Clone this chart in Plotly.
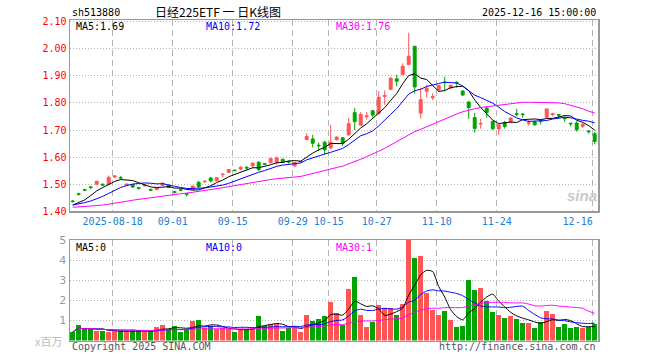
import numpy as np
import pandas as pd
import plotly.graph_objects as go

# ---------------- data ----------------
opens = [1.438, 1.465, 1.480, 1.490, 1.500, 1.500, 1.500, 1.527, 1.525, 1.496,
         1.499, 1.487, 1.494, 1.480, 1.480, 1.496, 1.496, 1.472, 1.480, 1.465,
         1.480, 1.507, 1.509, 1.523, 1.513, 1.535, 1.544, 1.552, 1.556, 1.562,
         1.568, 1.581, 1.576, 1.580, 1.581, 1.592, 1.584, 1.568, 1.582, 1.665,
         1.667, 1.644, 1.655, 1.634, 1.664, 1.671, 1.682, 1.764, 1.718, 1.749,
         1.771, 1.762, 1.824, 1.850, 1.889, 1.905, 1.942, 2.009, 1.762, 1.843,
         1.819, 1.848, 1.877, 1.855, 1.876, 1.844, 1.803, 1.746, 1.722, 1.781,
         1.732, 1.704, 1.728, 1.730, 1.760, 1.759, 1.725, 1.731, 1.734, 1.747,
         1.757, 1.757, 1.744, 1.725, 1.726, 1.714, 1.696, 1.686]
highs = [1.442, 1.469, 1.482, 1.494, 1.512, 1.502, 1.532, 1.533, 1.530, 1.501,
         1.501, 1.490, 1.498, 1.484, 1.489, 1.505, 1.498, 1.476, 1.483, 1.468,
         1.494, 1.513, 1.513, 1.527, 1.526, 1.538, 1.556, 1.553, 1.567, 1.567,
         1.582, 1.585, 1.578, 1.598, 1.601, 1.594, 1.587, 1.582, 1.586, 1.688,
         1.682, 1.654, 1.660, 1.719, 1.676, 1.673, 1.744, 1.781, 1.766, 1.766,
         1.774, 1.844, 1.846, 1.897, 1.904, 1.946, 2.059, 2.010, 1.856, 1.866,
         1.835, 1.867, 1.896, 1.867, 1.880, 1.846, 1.808, 1.763, 1.742, 1.787,
         1.733, 1.720, 1.734, 1.747, 1.778, 1.762, 1.738, 1.734, 1.736, 1.779,
         1.764, 1.757, 1.750, 1.727, 1.732, 1.726, 1.700, 1.693]
lows = [1.432, 1.458, 1.474, 1.482, 1.499, 1.493, 1.499, 1.522, 1.518, 1.494,
        1.486, 1.480, 1.492, 1.475, 1.478, 1.495, 1.487, 1.466, 1.474, 1.454,
        1.478, 1.485, 1.506, 1.507, 1.511, 1.526, 1.541, 1.549, 1.552, 1.552,
        1.559, 1.549, 1.572, 1.576, 1.572, 1.580, 1.576, 1.562, 1.580, 1.662,
        1.636, 1.622, 1.608, 1.630, 1.662, 1.640, 1.680, 1.700, 1.716, 1.738,
        1.746, 1.757, 1.793, 1.848, 1.861, 1.902, 1.940, 1.835, 1.742, 1.819,
        1.810, 1.843, 1.845, 1.853, 1.856, 1.826, 1.741, 1.691, 1.705, 1.746,
        1.699, 1.681, 1.705, 1.728, 1.750, 1.745, 1.716, 1.716, 1.720, 1.745,
        1.750, 1.741, 1.730, 1.713, 1.694, 1.707, 1.686, 1.647]
closes = [1.436, 1.463, 1.478, 1.488, 1.511, 1.497, 1.525, 1.530, 1.523, 1.500,
          1.490, 1.485, 1.497, 1.478, 1.488, 1.504, 1.488, 1.470, 1.478, 1.463,
          1.493, 1.491, 1.511, 1.512, 1.524, 1.537, 1.554, 1.550, 1.562, 1.560,
          1.577, 1.554, 1.574, 1.594, 1.597, 1.582, 1.582, 1.580, 1.584, 1.676,
          1.651, 1.642, 1.627, 1.655, 1.674, 1.651, 1.723, 1.731, 1.758, 1.752,
          1.755, 1.821, 1.827, 1.891, 1.880, 1.935, 1.972, 1.859, 1.812, 1.854,
          1.823, 1.864, 1.875, 1.865, 1.874, 1.829, 1.783, 1.706, 1.724, 1.765,
          1.705, 1.719, 1.713, 1.744, 1.758, 1.757, 1.726, 1.719, 1.732, 1.778,
          1.760, 1.755, 1.742, 1.723, 1.701, 1.721, 1.694, 1.658]
volumes = [0.43, 0.77, 0.56, 0.62, 0.47, 0.47, 0.42, 0.47, 0.47, 0.47,
           0.47, 0.47, 0.44, 0.47, 0.67, 0.77, 0.57, 0.72, 0.43, 0.56,
           0.97, 1.02, 0.60, 0.72, 0.55, 0.60, 0.57, 0.43, 0.55, 0.55,
           0.68, 1.22, 0.72, 0.82, 0.80, 0.48, 0.62, 0.65, 0.43, 1.27,
           0.97, 1.07, 1.22, 1.92, 1.35, 0.75, 2.58, 3.18, 1.27, 0.68,
           0.93, 1.77, 1.60, 1.60, 1.27, 1.83, 4.98, 4.08, 4.18, 2.38,
           1.52, 1.27, 1.47, 1.02, 0.67, 0.72, 3.02, 2.52, 2.62, 1.95,
           1.42, 1.27, 1.13, 1.22, 1.08, 0.85, 0.85, 0.60, 0.92, 1.47,
           1.33, 0.68, 0.83, 0.63, 0.68, 0.63, 0.68, 0.82]

# moving-average values at the start of the window (they depend on
# sessions before the first visible candle, so they are read off the lines)
ma5_head = [1.423, 1.432, 1.442, 1.458]
ma10_head = [1.423, 1.427, 1.432, 1.438, 1.446, 1.455, 1.466, 1.478, 1.488]
ma30_head = [1.415, 1.416, 1.418, 1.419, 1.421, 1.423, 1.426, 1.429, 1.433, 1.437,
             1.441, 1.444, 1.447, 1.451, 1.454, 1.458, 1.461, 1.463, 1.465, 1.467,
             1.470, 1.473, 1.476, 1.479, 1.483, 1.487, 1.491, 1.495, 1.499]

tick_dates = ["2025-08-18", "2025-09-01", "2025-09-15", "2025-09-29", "2025-10-15",
              "2025-10-27", "2025-11-10", "2025-11-24", "2025-12-16"]
tick_labels = ["2025-08-18", "09-01", "09-15", "09-29", "10-15",
               "10-27", "11-10", "11-24", "12-16"]
price_ticks = [1.40, 1.50, 1.60, 1.70, 1.80, 1.90, 2.00, 2.10]
vol_ticks = [1, 2, 3, 4, 5]

# trading calendar (weekdays, without the October holiday)
all_days = pd.bdate_range("2025-08-07", "2025-12-16")
holiday = (all_days >= "2025-10-01") & (all_days <= "2025-10-08")
days = [d.strftime("%Y-%m-%d") for d in all_days[~holiday]]
n = len(closes)
x = np.arange(n)
tick_pos = [days.index(d) - 1 / 3 for d in tick_dates]
# the last date label is kept inside the frame (pushed left as in the original)
tick_text = tick_labels[:-1] + [tick_labels[-1] + "\u00a0" * 5]

c = pd.Series(closes)
ma5 = c.rolling(5).mean().to_numpy()
ma10 = c.rolling(10).mean().to_numpy()
ma30 = c.rolling(30).mean().to_numpy()
ma5[:len(ma5_head)] = ma5_head
ma10[:len(ma10_head)] = ma10_head
ma30[:len(ma30_head)] = ma30_head

v = pd.Series(volumes)
vma5 = v.rolling(5, min_periods=1).mean()
vma10 = v.rolling(10, min_periods=1).mean()
vma30 = v.rolling(30, min_periods=1).mean()

RED = "#ff5555"
GREEN = "#00a400"
vol_colors = [RED if cl > op else GREEN for op, cl in zip(opens, closes)]

W, H = 660, 360
def px(xp):
    return xp / W
def py(yp):
    return 1 - yp / H

fig = go.Figure()
fig.add_trace(go.Candlestick(
    x=x, open=opens, high=highs, low=lows, close=closes,
    increasing=dict(line=dict(color=RED, width=1), fillcolor=RED),
    decreasing=dict(line=dict(color=GREEN, width=1), fillcolor=GREEN),
    whiskerwidth=0, xaxis="x", yaxis="y", hoverinfo="skip"))
for arr, col in [(ma5, "#000000"), (ma10, "#0000ff"), (ma30, "#ff00ff")]:
    fig.add_trace(go.Scatter(x=x, y=arr, mode="lines", line=dict(color=col, width=1),
                             xaxis="x", yaxis="y", hoverinfo="skip"))

fig.add_trace(go.Bar(x=x, y=volumes, marker=dict(color=vol_colors, line=dict(width=0)),
                     width=0.88, xaxis="x2", yaxis="y2", hoverinfo="skip"))
for arr, col in [(vma5, "#000000"), (vma10, "#0000ff"), (vma30, "#ff00ff")]:
    fig.add_trace(go.Scatter(x=x, y=arr, mode="lines",
                             line=dict(color=col, width=1, shape="spline", smoothing=0.6),
                             xaxis="x2", yaxis="y2", hoverinfo="skip"))

MONO = "DejaVu Sans Mono"
xdom = [px(70), px(598)]
xr = [-0.45, n - 0.45]
grid_v = dict(showgrid=True, gridcolor="#b4b4b4", gridwidth=1.5, griddash="6px,4px")

fig.update_layout(
    width=W, height=H, margin=dict(l=0, r=0, t=0, b=0),
    paper_bgcolor="white", plot_bgcolor="white", showlegend=False,
    hovermode=False, bargap=0,
    xaxis=dict(domain=xdom, range=xr, anchor="y", tickvals=tick_pos, ticktext=tick_text,
               tickfont=dict(family=MONO, size=10, color="#1a80d9"), ticks="",
               rangeslider=dict(visible=False), showline=True, mirror=True,
               linecolor="#999999", linewidth=1.5, zeroline=False, automargin=False,
               **grid_v),
    yaxis=dict(domain=[py(211.3), py(20)], range=[1.40, 2.106], anchor="x",
               tickvals=price_ticks, ticktext=[f"{t:.2f}" for t in price_ticks],
               tickfont=dict(family=MONO, size=10, color="#ff0000"), ticks="",
               showgrid=True, gridcolor="#b4b4b4", gridwidth=1, griddash="1px,2px",
               showline=True, mirror=True, linecolor="#999999", linewidth=1.5,
               zeroline=False, automargin=False),
    xaxis2=dict(domain=xdom, range=xr, anchor="y2", tickvals=tick_pos,
                showticklabels=False, ticks="", showline=True, mirror=True,
                linecolor="#999999", linewidth=1.5, zeroline=False, automargin=False,
                **grid_v),
    yaxis2=dict(domain=[py(340.5), py(240)], range=[0, 5], anchor="x2",
                tickvals=vol_ticks, ticktext=[str(t) for t in vol_ticks],
                tickfont=dict(family="DejaVu Sans", size=11, color="#999999"), ticks="",
                showgrid=True, gridcolor="#b4b4b4", gridwidth=1, griddash="1px,2px",
                showline=True, mirror=True, linecolor="#999999", linewidth=1.5,
                zeroline=False, automargin=False),
)

def note(text, xp, yp, color="#000000", size=10, family=MONO, anchor="left"):
    fig.add_annotation(text=text, x=px(xp), y=py(yp), xref="paper", yref="paper",
                       xanchor=anchor, yanchor="middle", showarrow=False,
                       font=dict(family=family, size=size, color=color))

note("sh513880", 70, 13)
note("日经225ETF 一 日K线图", 218, 12, size=12, family="Noto Sans CJK SC", anchor="center")
note("2025-12-16 15:00:00", 598, 13, anchor="right")
note("MA5:1.69", 74, 27)
note("MA10:1.72", 204, 27, color="#0000ff")
note("MA30:1.76", 334, 27, color="#ff00ff")
note("MA5:0", 74, 247)
note("MA10:0", 204, 247, color="#0000ff")
note("MA30:1", 334, 247, color="#ff00ff")
note("x百万", 64, 341, color="#bbbbbb", size=11, family="Noto Sans CJK SC", anchor="right")
note("Copyright 2025 SINA.COM", 70, 346, color="#555555")
note("http://finance.sina.com.cn", 598, 346, color="#555555", anchor="right")
note("<b><i>sina</i></b>", 582, 196, color="#c8c8c8", size=15, family="Liberation Sans",
     anchor="center")

# remove the default 8px page margin so the figure fills the 660x360 window
fig.write_html("out.html", config={"displayModeBar": False, "staticPlot": True},
               post_script="document.body.style.margin='0';")
